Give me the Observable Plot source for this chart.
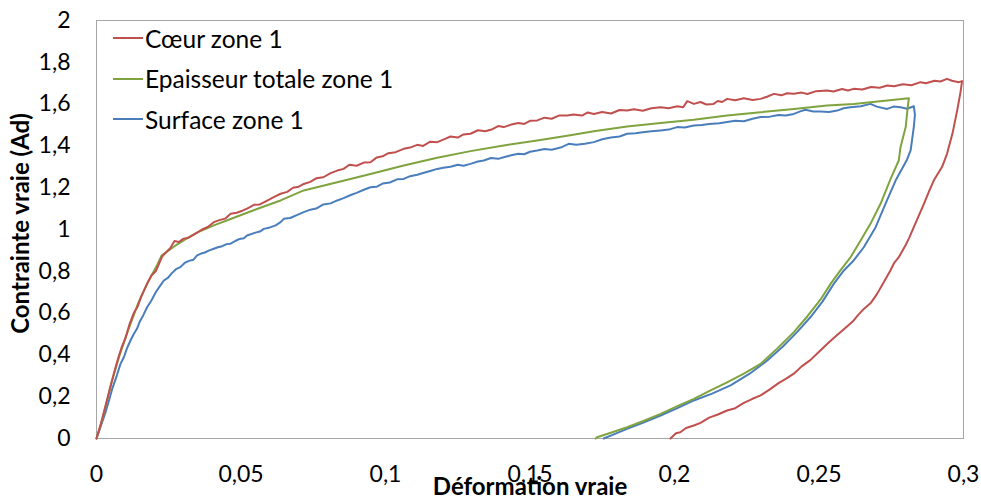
<!DOCTYPE html>
<html><head><meta charset="utf-8">
<script src="https://cdn.jsdelivr.net/npm/d3@7"></script>
<script src="https://cdn.jsdelivr.net/npm/@observablehq/plot@0.6"></script>
<style>
body{margin:0;background:#fff;}
#wrap{position:relative;width:981px;height:503px;overflow:hidden;font-family:Lato,"Open Sans",sans-serif;}
#legend{position:absolute;left:113px;top:18px;}
.row{height:40.5px;display:flex;align-items:center;font-size:24.5px;color:#000;white-space:nowrap;}
.sw{width:30px;height:2px;margin-right:2px;}
</style></head>
<body><div id="wrap"><div id="chart"></div><div id="legend"></div></div>
<script>
const seriesNames = ["Cœur zone 1", "Epaisseur totale zone 1", "Surface zone 1"];
const seriesColors = ["#c0504d", "#7fa33e", "#4a7ebb"];
const xTicks = [0, 0.05, 0.1, 0.15, 0.2, 0.25, 0.3];
const yTicks = [0, 0.2, 0.4, 0.6, 0.8, 1, 1.2, 1.4, 1.6, 1.8, 2];
const xTitle = "Déformation vraie";
const yTitle = "Contrainte vraie (Ad)";

const coeurStrain = [0,0.0015,0.003,0.0045,0.006,0.0072,0.0088,0.0100,0.0115,0.0129,0.0142,0.0155,0.0175,0.0190,0.0205,0.0227,0.0240,0.0255,0.0270,0.0285,0.0300,0.0320,0.0348,0.0365,0.0385,0.0406,0.0425,0.0445,0.0464,0.0485,0.0505,0.0521,0.0545,0.0565,0.0579,0.0602,0.0620,0.0637,0.0660,0.0680,0.0700,0.0717,0.0740,0.0760,0.0785,0.0810,0.0833,0.0855,0.0875,0.0900,0.0925,0.0948,0.0970,0.0990,0.1010,0.1035,0.1063,0.1085,0.1110,0.1130,0.1155,0.1179,0.1200,0.1225,0.1250,0.1270,0.1294,0.1320,0.1345,0.1370,0.1390,0.1409,0.1435,0.1460,0.1480,0.1500,0.1525,0.1550,0.1575,0.1600,0.1629,0.1650,0.1680,0.1700,0.1721,0.1750,0.1780,0.1810,0.1836,0.1860,0.1890,0.1920,0.1952,0.1980,0.2010,0.2030,0.2044,0.2055,0.2067,0.2090,0.2110,0.2135,0.2150,0.2165,0.2182,0.2210,0.2240,0.2270,0.2298,0.2320,0.2344,0.2370,0.2390,0.2413,0.2440,0.2460,0.2490,0.2528,0.2550,0.2580,0.2600,0.2620,0.2650,0.2680,0.2710,0.2736,0.2760,0.2790,0.2820,0.2851,0.2870,0.2900,0.2920,0.2943,0.2960,0.2984,0.2995,
0.2990,0.2978,0.2962,0.2943,0.2926,0.2908,0.2897,0.2880,0.2863,0.2845,0.2828,0.2812,0.2799,0.2775,0.2760,0.2747,0.2725,0.2701,0.2680,0.2655,0.2635,0.2620,0.2600,0.2575,0.2550,0.2529,0.2500,0.2470,0.2440,0.2413,0.2385,0.2360,0.2330,0.2298,0.2270,0.2240,0.2210,0.2182,0.2150,0.2120,0.2090,0.2067,0.2040,0.2020,0.2005,0.1986];
const coeurStress = [0,0.07,0.15,0.23,0.31,0.37,0.44,0.48,0.55,0.60,0.63,0.68,0.74,0.78,0.80,0.87,0.89,0.91,0.945,0.94,0.955,0.962,0.985,1.0,1.012,1.035,1.045,1.052,1.075,1.08,1.09,1.10,1.118,1.12,1.13,1.147,1.16,1.171,1.18,1.2,1.205,1.218,1.228,1.245,1.25,1.27,1.282,1.29,1.31,1.305,1.32,1.322,1.345,1.35,1.365,1.37,1.386,1.392,1.405,1.40,1.42,1.418,1.43,1.445,1.44,1.455,1.458,1.475,1.47,1.48,1.495,1.49,1.502,1.51,1.505,1.52,1.522,1.535,1.53,1.545,1.545,1.55,1.545,1.56,1.553,1.562,1.555,1.572,1.569,1.575,1.568,1.58,1.585,1.58,1.59,1.585,1.614,1.608,1.601,1.61,1.598,1.601,1.615,1.61,1.625,1.618,1.628,1.62,1.625,1.635,1.649,1.642,1.652,1.649,1.655,1.648,1.662,1.665,1.66,1.672,1.665,1.673,1.67,1.682,1.678,1.689,1.685,1.695,1.69,1.705,1.70,1.712,1.708,1.721,1.712,1.705,1.71,
1.66,1.569,1.46,1.362,1.30,1.26,1.234,1.18,1.123,1.065,1.011,0.96,0.923,0.865,0.84,0.804,0.75,0.692,0.65,0.62,0.59,0.565,0.54,0.51,0.48,0.453,0.415,0.375,0.345,0.31,0.285,0.265,0.235,0.206,0.19,0.17,0.145,0.134,0.115,0.10,0.075,0.062,0.05,0.03,0.025,0];

const totaleStrain = [0,0.002,0.005,0.008,0.011,0.0145,0.0175,0.021,0.0225,0.024,0.027,0.031,0.0348,0.0406,0.0464,0.0521,0.0579,0.0637,0.0717,0.0833,0.0948,0.1063,0.1179,0.1294,0.1409,0.1525,0.1634,0.1721,0.1836,0.1952,0.2067,0.2182,0.2298,0.2413,0.2528,0.262,0.2736,0.2811,
0.2807,0.2800,0.2782,0.2776,0.2747,0.2713,0.2678,0.2644,0.2609,0.2574,0.2540,0.2505,0.2460,0.2413,0.2355,0.2298,0.2240,0.2182,0.2125,0.2067,0.2010,0.1952,0.1895,0.1836,0.1785,0.1732,0.1727];
const totaleStress = [0,0.09,0.26,0.40,0.52,0.65,0.74,0.83,0.875,0.89,0.92,0.955,0.985,1.02,1.05,1.08,1.11,1.139,1.187,1.226,1.266,1.306,1.343,1.375,1.402,1.426,1.45,1.47,1.493,1.509,1.525,1.545,1.561,1.577,1.593,1.601,1.617,1.628,
1.585,1.49,1.394,1.33,1.24,1.123,1.027,0.947,0.867,0.804,0.74,0.664,0.585,0.509,0.43,0.357,0.31,0.269,0.23,0.19,0.155,0.118,0.085,0.054,0.03,0.006,0];

const surfaceStrain = [0,0.0015,0.003,0.0045,0.0055,0.007,0.0083,0.0095,0.0105,0.0118,0.0129,0.014,0.015,0.0162,0.0175,0.019,0.0205,0.022,0.0233,0.0248,0.026,0.0275,0.029,0.0305,0.032,0.0335,0.0348,0.0362,0.0375,0.039,0.0406,0.042,0.0435,0.045,0.0464,0.048,0.0495,0.051,0.0521,0.055,0.0565,0.0579,0.060,0.062,0.0637,0.0648,0.067,0.0695,0.0717,0.074,0.076,0.0785,0.081,0.0833,0.0855,0.088,0.090,0.0925,0.0948,0.097,0.099,0.1015,0.104,0.1063,0.1085,0.111,0.113,0.1155,0.1179,0.120,0.1225,0.125,0.127,0.1294,0.132,0.134,0.1365,0.139,0.1409,0.1435,0.146,0.148,0.150,0.1525,0.155,0.1575,0.1606,0.1634,0.166,0.169,0.1721,0.175,0.178,0.181,0.1836,0.1865,0.189,0.192,0.1952,0.198,0.2009,0.2035,0.2067,0.2095,0.212,0.2155,0.2182,0.221,0.224,0.227,0.2298,0.233,0.236,0.2385,0.2413,0.2435,0.2453,0.248,0.2505,0.2535,0.2563,0.2585,0.2609,0.2645,0.2678,0.270,0.2736,0.2758,0.2782,0.2805,0.2828,
0.2832,0.2828,0.2817,0.2803,0.2765,0.2730,0.2696,0.2655,0.2620,0.2586,0.2551,0.2512,0.2470,0.2424,0.2375,0.2321,0.2260,0.2194,0.2130,0.2067,0.2010,0.1952,0.1890,0.1836,0.1790,0.1755];
const surfaceStress = [0,0.06,0.12,0.19,0.24,0.30,0.357,0.39,0.43,0.47,0.50,0.525,0.56,0.59,0.628,0.66,0.70,0.73,0.756,0.77,0.79,0.81,0.82,0.84,0.85,0.855,0.876,0.885,0.89,0.90,0.908,0.915,0.92,0.93,0.932,0.945,0.955,0.958,0.971,0.985,0.99,1.003,1.01,1.02,1.035,1.051,1.055,1.07,1.083,1.095,1.10,1.12,1.125,1.139,1.15,1.165,1.175,1.19,1.202,1.205,1.22,1.225,1.24,1.242,1.255,1.262,1.27,1.28,1.29,1.295,1.30,1.31,1.305,1.314,1.325,1.33,1.342,1.338,1.346,1.355,1.362,1.36,1.372,1.378,1.385,1.382,1.392,1.41,1.405,1.41,1.418,1.432,1.44,1.445,1.458,1.46,1.465,1.47,1.474,1.478,1.49,1.488,1.498,1.50,1.505,1.508,1.514,1.52,1.518,1.53,1.538,1.54,1.548,1.545,1.553,1.565,1.573,1.565,1.565,1.562,1.569,1.58,1.585,1.59,1.601,1.588,1.577,1.588,1.585,1.578,1.59,
1.55,1.49,1.378,1.33,1.234,1.123,1.011,0.915,0.852,0.804,0.74,0.655,0.58,0.509,0.44,0.373,0.31,0.254,0.215,0.182,0.145,0.11,0.075,0.046,0.02,0];

const strains = [coeurStrain, totaleStrain, surfaceStrain];
const stresses = [coeurStress, totaleStress, surfaceStress];
const rows = [];
seriesNames.forEach((name, s) => {
  strains[s].forEach((x, i) => rows.push({series: name, idx: i, x, y: stresses[s][i]}));
});
const fmt = d => String(d).replace(".", ",");

const chart = Plot.plot({
  width: 981, height: 503,
  marginLeft: 96, marginRight: 18, marginTop: 20, marginBottom: 65,
  style: {fontFamily: "Lato, 'Open Sans', sans-serif", fontSize: "23px", color: "#000", background: "#fff", overflow: "visible"},
  x: {domain: [0, 0.3], ticks: xTicks, tickFormat: fmt, tickSize: 0, tickPadding: 27, label: null},
  y: {domain: [0, 2], ticks: yTicks, tickFormat: fmt, tickSize: 0, tickPadding: 26, label: null},
  color: {domain: seriesNames, range: seriesColors},
  marks: [
    Plot.frame({stroke: "#a6a6a6", strokeWidth: 1}),
    ...seriesNames.map((name) => Plot.line(rows.filter(r => r.series === name), {x: "x", y: "y", stroke: "series", strokeWidth: 2, curve: "linear"})).reverse(),
    Plot.text([yTitle], {frameAnchor: "left", textAnchor: "middle", rotate: -90, dx: -75, dy: -6, fontWeight: "bold", fontSize: 24}),
    Plot.text([xTitle], {frameAnchor: "bottom", textAnchor: "middle", dy: 56, fontWeight: "bold", fontSize: 24})
  ]
});
document.getElementById("chart").appendChild(chart);

const legend = document.getElementById("legend");
seriesNames.forEach((name, i) => {
  const row = document.createElement("div");
  row.className = "row";
  const sw = document.createElement("span");
  sw.className = "sw";
  sw.style.background = seriesColors[i];
  const t = document.createElement("span");
  t.textContent = name;
  row.appendChild(sw); row.appendChild(t);
  legend.appendChild(row);
});
</script></body></html>
